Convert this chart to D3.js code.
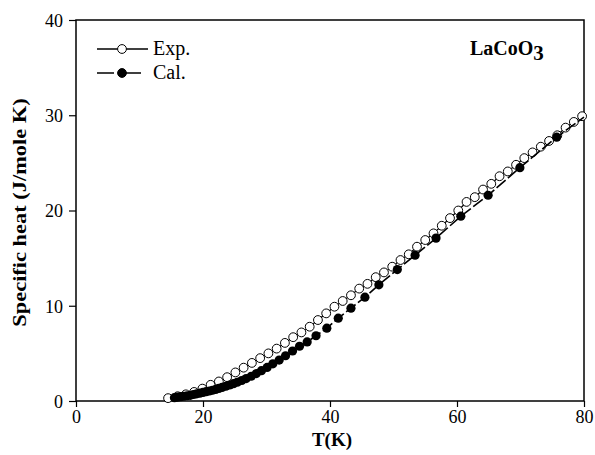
<!DOCTYPE html>
<html>
<head>
<meta charset="utf-8">
<script src="https://cdn.jsdelivr.net/npm/d3@7"></script>
<style>
  body { margin: 0; background: #fff; }
  svg text { font-family: "Liberation Serif", "DejaVu Serif", serif; fill: #000; }
</style>
</head>
<body>
<svg id="chart"></svg>
<script>
// measured specific heat (open circles)
const EXP_T = [14.5, 16.0, 17.3, 18.6, 19.9, 21.2, 22.5, 23.8, 25.1, 26.4, 27.7, 29.0, 30.3,
    31.6, 32.9, 34.2, 35.5, 36.8, 38.1, 39.4, 40.7, 42.0, 43.3, 44.6, 45.9, 47.2, 48.5, 49.8,
    51.1, 52.4, 53.7, 55.0, 56.3, 57.6, 58.9, 60.2, 61.5, 62.8, 64.1, 65.4, 66.7, 68.0, 69.3,
    70.6, 71.9, 73.2, 74.5, 75.8, 77.1, 78.4, 79.7];
const EXP_C = [0.3, 0.5, 0.7, 0.95, 1.3, 1.7, 2.05, 2.5, 3.0, 3.5, 4.0, 4.5, 5.0,
    5.5, 6.1, 6.7, 7.2, 7.8, 8.5, 9.2, 9.9, 10.5, 11.1, 11.8, 12.3, 13.0, 13.5, 14.1,
    14.8, 15.4, 16.2, 16.9, 17.6, 18.4, 19.2, 20.0, 20.9, 21.4, 22.2, 22.8, 23.6, 24.1, 24.8,
    25.5, 26.1, 26.7, 27.3, 27.9, 28.7, 29.3, 29.9];

// calculated specific heat (filled circles)
const CAL_T = [15.5, 16, 16.5, 17, 17.5, 18, 18.5, 19, 19.5, 20, 20.5, 21, 21.5, 22, 22.5, 23,
    23.6, 24.2, 24.8, 25.4, 26.1, 26.8, 27.6, 28.4, 29.2, 30.1, 31, 32, 33, 34.1, 35.2, 36.4,
    37.8, 39.5, 41.3, 43.3, 45.5, 47.7, 50.6, 53.4, 56.7, 60.6, 64.9, 69.9, 75.7];
const CAL_C = [0.35, 0.4, 0.45, 0.5, 0.55, 0.6, 0.68, 0.75, 0.82, 0.9, 0.98, 1.05, 1.13, 1.22,
    1.32, 1.42, 1.55, 1.68, 1.82, 1.97, 2.15, 2.35, 2.6, 2.88, 3.18, 3.52, 3.9, 4.3, 4.75, 5.25,
    5.75, 6.2, 6.85, 7.65, 8.7, 9.75, 10.9, 12.2, 13.8, 15.3, 17.1, 19.4, 21.6, 24.5, 27.7];
// the calculated curve runs on to the right edge past the last marker
const CAL_LINE_END = [80, 29.8];

const X_TICKS = [0, 20, 40, 60, 80];
const Y_TICKS = [0, 10, 20, 30, 40];

const WIDTH = 595, HEIGHT = 455;
const MARGIN = {top: 20, right: 11, bottom: 54, left: 76};
const W = WIDTH - MARGIN.left - MARGIN.right;
const H = HEIGHT - MARGIN.top - MARGIN.bottom;

const svg = d3.select('#chart').attr('width', WIDTH).attr('height', HEIGHT);
const g = svg.append('g').attr('transform', `translate(${MARGIN.left},${MARGIN.top})`);

const x = d3.scaleLinear().domain([0, 80]).range([0, W]);
const y = d3.scaleLinear().domain([0, 40]).range([H, 0]);

const expData = EXP_T.map((t, i) => ({t: t, c: EXP_C[i]}));
const calData = CAL_T.map((t, i) => ({t: t, c: CAL_C[i]}));
const calLine = calData.concat([{t: CAL_LINE_END[0], c: CAL_LINE_END[1]}]);

/* axes */
const xAxis = g.append('g').attr('transform', `translate(0,${H})`)
    .call(d3.axisBottom(x).tickValues(X_TICKS).tickSize(6).tickPadding(3).tickSizeOuter(0));
const yAxis = g.append('g')
    .call(d3.axisLeft(y).tickValues(Y_TICKS).tickSize(7).tickPadding(6).tickSizeOuter(0));
[xAxis, yAxis].forEach(a => {
    a.select('.domain').remove();
    a.selectAll('line').attr('stroke', '#000').attr('stroke-width', 1.2);
    a.selectAll('text').style('font-size', '18px');
});
yAxis.selectAll('text').attr('dy', '0.35em');

// frame
g.append('rect').attr('width', W).attr('height', H)
    .attr('fill', 'none').attr('stroke', '#000').attr('stroke-width', 1.5);

/* lines + markers */
const line = d3.line().x(d => x(d.t)).y(d => y(d.c));
g.append('path').datum(expData).attr('d', line)
    .attr('fill', 'none').attr('stroke', '#000').attr('stroke-width', 1.3);
g.selectAll('.exp').data(expData).enter().append('circle').classed('exp', true)
    .attr('cx', d => x(d.t)).attr('cy', d => y(d.c)).attr('r', 4.4)
    .attr('fill', '#fff').attr('stroke', '#000').attr('stroke-width', 1);
g.append('path').datum(calLine).attr('d', line)
    .attr('fill', 'none').attr('stroke', '#000').attr('stroke-width', 1.6)
    .attr('stroke-dasharray', '12,3');
g.selectAll('.cal').data(calData).enter().append('circle').classed('cal', true)
    .attr('cx', d => x(d.t)).attr('cy', d => y(d.c)).attr('r', 4.6)
    .attr('fill', '#000');

/* legend */
const legend = svg.append('g');
[{name: 'Exp.', y: 49, open: true, dash: null}, {name: 'Cal.', y: 73, open: false, dash: '17,10'}]
    .forEach(item => {
        legend.append('line').attr('x1', 97).attr('x2', 148).attr('y1', item.y).attr('y2', item.y)
            .attr('stroke', '#000').attr('stroke-width', 1.6)
            .attr('stroke-dasharray', item.dash);
        legend.append('circle').attr('cx', 122).attr('cy', item.y).attr('r', 4.4)
            .attr('fill', item.open ? '#fff' : '#000').attr('stroke', '#000').attr('stroke-width', 1);
        legend.append('text').attr('x', 153).attr('y', item.y + 6)
            .style('font-size', '20px').text(item.name);
    });

const formula = svg.append('text').attr('x', 470).attr('y', 55)
    .style('font-size', '20px').style('font-weight', 'bold');
formula.append('tspan').text('LaCoO');
formula.append('tspan').attr('dy', 5).style('font-size', '21px').text('3');

/* axis titles */
svg.append('text').attr('x', MARGIN.left + W / 2 + 2).attr('y', 446)
    .attr('text-anchor', 'middle').style('font-size', '19px').style('font-weight', 'bold')
    .text('T(K)');
svg.append('text')
    .attr('transform', `translate(26,${MARGIN.top + H / 2 + 2}) rotate(-90) scale(1.18,1)`)
    .attr('text-anchor', 'middle').style('font-size', '19px').style('font-weight', 'bold')
    .text('Specific heat (J/mole K)');
</script>
</body>
</html>
